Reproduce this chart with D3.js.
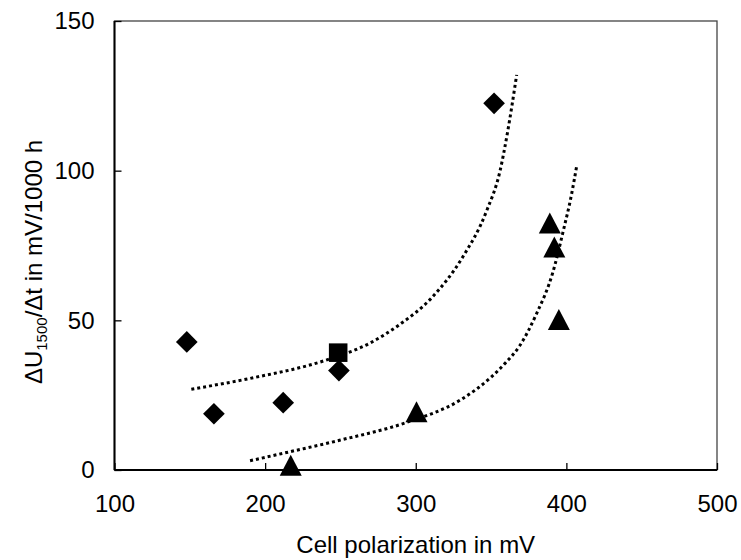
<!DOCTYPE html>
<meta charset="utf-8">
<style>
body { margin: 0; background: #fff; }
svg { font-family: "Liberation Sans", Arial, sans-serif; }
.tick text { font-size: 24px; fill: #000; }
.axis path { display: none; }
.axis line { stroke: #000; stroke-width: 1.3; }
.trend { fill: none; stroke: #000; stroke-width: 3; stroke-dasharray: 3 3; }
</style>
<svg width="741" height="560"></svg>
<script src="https://cdn.jsdelivr.net/npm/d3@7"></script>
<script>

// diamonds
var diamondX = [148, 166, 212, 249, 352],
    diamondY = [42.8, 18.8, 22.5, 33.2, 122.5];
// square
var squareX = [248.5],
    squareY = [39.2];
// triangles
var triangleX = [217, 300.5, 389, 392, 395],
    triangleY = [1.6, 19.5, 82.5, 74.5, 50.3];

// dotted trend lines
var trend1X = [151, 190, 241, 270, 289, 310.5, 331, 347, 356, 361, 367],
    trend1Y = [27, 30.6, 36.8, 42.5, 48.5, 57.5, 71, 86.5, 100, 113, 132];
var trend2X = [190, 216.5, 250, 294, 330, 350, 360, 369, 380, 391, 398, 403.4, 407],
    trend2Y = [3.1, 6.1, 10, 15.9, 23.5, 31, 36, 41.5, 52, 66, 80, 92, 102];

var xTicks = [100, 200, 300, 400, 500],
    yTicks = [0, 50, 100, 150];

var svg = d3.select("svg"),
    margin = {top: 21, right: 24, bottom: 90, left: 114.5},
    width = +svg.attr("width") - margin.left - margin.right,
    height = +svg.attr("height") - margin.top - margin.bottom;

var x = d3.scaleLinear().domain([100, 500]).range([0, width]),
    y = d3.scaleLinear().domain([0, 150]).range([height, 0]);

var g = svg.append("g")
    .attr("transform", "translate(" + margin.left + "," + margin.top + ")");

// frame
g.append("rect")
    .attr("width", width).attr("height", height)
    .attr("fill", "none").attr("stroke", "#444").attr("stroke-width", 1.3);

g.append("g")
    .attr("class", "axis")
    .attr("transform", "translate(0," + height + ")")
    .call(d3.axisBottom(x).tickValues(xTicks).tickSize(-7).tickPadding(34))
  .selectAll(".tick text").attr("dy", "0.32em");

g.append("g")
    .attr("class", "axis")
    .call(d3.axisLeft(y).tickValues(yTicks).tickSize(-7).tickPadding(20));

g.append("line").attr("x1", 0).attr("x2", 0).attr("y1", 0).attr("y2", height)
    .attr("stroke", "#000").attr("stroke-width", 2);
g.append("line").attr("x1", 0).attr("x2", width).attr("y1", height).attr("y2", height)
    .attr("stroke", "#000").attr("stroke-width", 2);

var line = d3.line()
    .x(function(d) { return x(d[0]); })
    .y(function(d) { return y(d[1]); })
    .curve(d3.curveMonotoneX);

g.append("path").attr("class", "trend").attr("d", line(d3.zip(trend1X, trend1Y)));
g.append("path").attr("class", "trend").attr("d", line(d3.zip(trend2X, trend2Y)));

// markers
var tri = {
  draw: function(ctx, size) {
    var w = 11, h = 10.5;
    ctx.moveTo(0, -h); ctx.lineTo(w, h); ctx.lineTo(-w, h); ctx.closePath();
  }
};

g.selectAll(".diamond")
    .data(d3.zip(diamondX, diamondY))
  .enter().append("path")
    .attr("class", "diamond")
    .attr("d", d3.symbol().type(d3.symbolSquare).size(235))
    .attr("transform", function(d) { return "translate(" + x(d[0]) + "," + y(d[1]) + ") rotate(45)"; });

g.selectAll(".square")
    .data(d3.zip(squareX, squareY))
  .enter().append("path")
    .attr("class", "square")
    .attr("d", d3.symbol().type(d3.symbolSquare).size(345))
    .attr("transform", function(d) { return "translate(" + x(d[0]) + "," + y(d[1]) + ")"; });

g.selectAll(".tri")
    .data(d3.zip(triangleX, triangleY))
  .enter().append("path")
    .attr("class", "tri")
    .attr("d", d3.symbol().type(tri))
    .attr("transform", function(d) { return "translate(" + x(d[0]) + "," + y(d[1]) + ")"; });

// axis titles
svg.append("text")
    .attr("x", margin.left + width / 2)
    .attr("y", 553)
    .attr("text-anchor", "middle")
    .attr("font-size", 24)
    .text("Cell polarization in mV");

var yt = svg.append("text")
    .attr("transform", "translate(42," + 262 + ") rotate(-90)")
    .attr("text-anchor", "middle")
    .attr("font-size", 24);
yt.append("tspan").text("\u0394U");
yt.append("tspan").attr("font-size", 15).attr("dy", 5).text("1500");
yt.append("tspan").attr("dy", -5).text("/\u0394t in mV/1000 h");

</script>
